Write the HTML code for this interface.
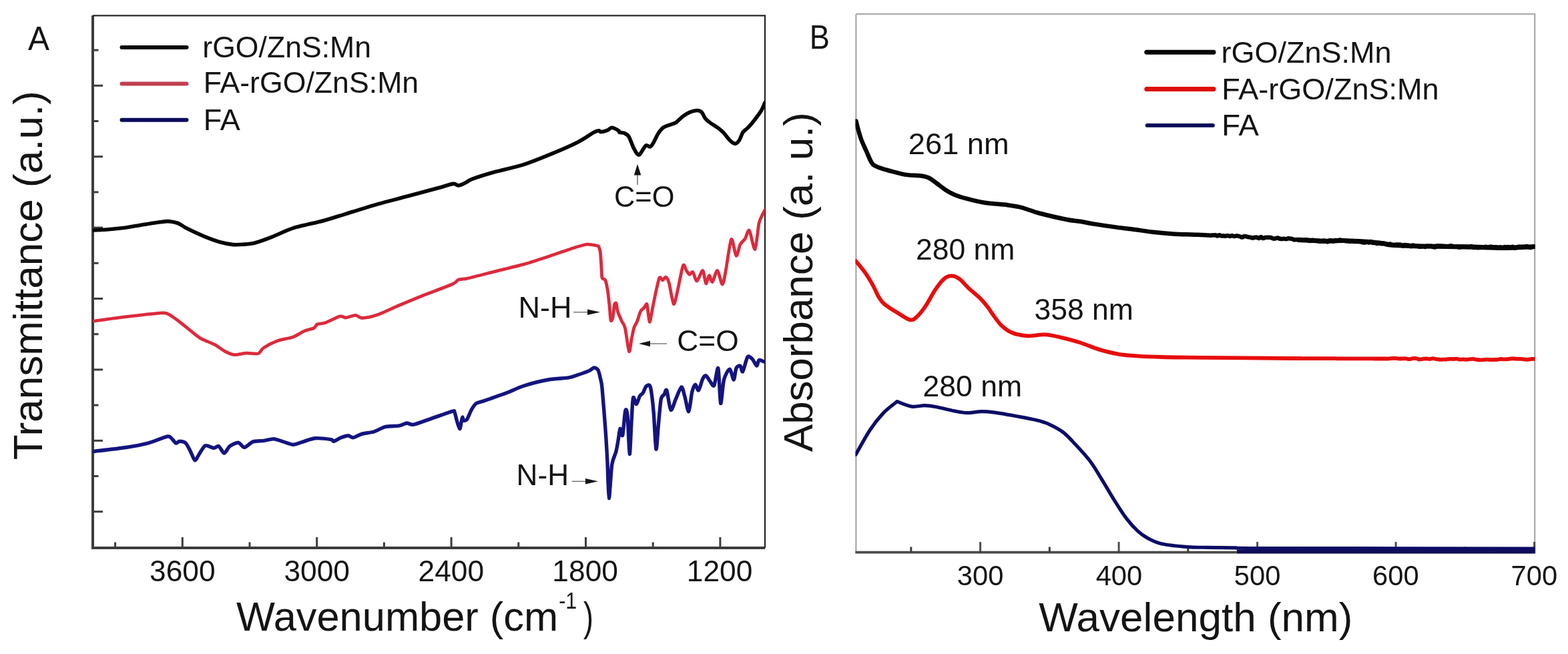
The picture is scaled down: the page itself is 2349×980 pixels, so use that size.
<!DOCTYPE html>
<html><head><meta charset="utf-8"><title>FTIR and UV-vis spectra</title>
<style>html,body{margin:0;padding:0;background:#fff;}body{width:2349px;height:980px;overflow:hidden;}svg{display:block;}text{font-family:'Liberation Sans', Arial, Helvetica, sans-serif;fill:#141414;}</style>
</head><body>
<svg width="2349" height="980" viewBox="0 0 2349 980">
<rect x="0" y="0" width="2349" height="980" fill="#fff"/>
<defs><clipPath id="ca"><rect x="139" y="23" width="1007" height="798"/></clipPath><clipPath id="cb"><rect x="1281.5" y="21" width="1018" height="808"/></clipPath></defs>
<line x1="139" y1="75.1" x2="147.5" y2="75.1" stroke="#3c3c3c" stroke-width="3"/>
<line x1="139" y1="128.3" x2="154" y2="128.3" stroke="#3c3c3c" stroke-width="3"/>
<line x1="139" y1="181.5" x2="147.5" y2="181.5" stroke="#3c3c3c" stroke-width="3"/>
<line x1="139" y1="234.7" x2="154" y2="234.7" stroke="#3c3c3c" stroke-width="3"/>
<line x1="139" y1="287.9" x2="147.5" y2="287.9" stroke="#3c3c3c" stroke-width="3"/>
<line x1="139" y1="341.1" x2="154" y2="341.1" stroke="#3c3c3c" stroke-width="3"/>
<line x1="139" y1="394.3" x2="147.5" y2="394.3" stroke="#3c3c3c" stroke-width="3"/>
<line x1="139" y1="447.5" x2="154" y2="447.5" stroke="#3c3c3c" stroke-width="3"/>
<line x1="139" y1="500.7" x2="147.5" y2="500.7" stroke="#3c3c3c" stroke-width="3"/>
<line x1="139" y1="553.9" x2="154" y2="553.9" stroke="#3c3c3c" stroke-width="3"/>
<line x1="139" y1="607.1" x2="147.5" y2="607.1" stroke="#3c3c3c" stroke-width="3"/>
<line x1="139" y1="660.3" x2="154" y2="660.3" stroke="#3c3c3c" stroke-width="3"/>
<line x1="139" y1="713.5" x2="147.5" y2="713.5" stroke="#3c3c3c" stroke-width="3"/>
<line x1="139" y1="766.7" x2="154" y2="766.7" stroke="#3c3c3c" stroke-width="3"/>
<line x1="172.6" y1="821" x2="172.6" y2="812.5" stroke="#3c3c3c" stroke-width="3"/>
<line x1="273.3" y1="821" x2="273.3" y2="805" stroke="#3c3c3c" stroke-width="3"/>
<line x1="374" y1="821" x2="374" y2="812.5" stroke="#3c3c3c" stroke-width="3"/>
<line x1="474.7" y1="821" x2="474.7" y2="805" stroke="#3c3c3c" stroke-width="3"/>
<line x1="575.4" y1="821" x2="575.4" y2="812.5" stroke="#3c3c3c" stroke-width="3"/>
<line x1="676.1" y1="821" x2="676.1" y2="805" stroke="#3c3c3c" stroke-width="3"/>
<line x1="776.8" y1="821" x2="776.8" y2="812.5" stroke="#3c3c3c" stroke-width="3"/>
<line x1="877.5" y1="821" x2="877.5" y2="805" stroke="#3c3c3c" stroke-width="3"/>
<line x1="978.2" y1="821" x2="978.2" y2="812.5" stroke="#3c3c3c" stroke-width="3"/>
<line x1="1078.9" y1="821" x2="1078.9" y2="805" stroke="#3c3c3c" stroke-width="3"/>
<path d="M139,23.3 V821 H1146" fill="none" stroke="#3c3c3c" stroke-width="4"/>
<path d="M139,23.3 H1146 V821" fill="none" stroke="#262626" stroke-width="2.2"/>
<text x="224.01" y="871.10" font-size="44.30" textLength="98.55" lengthAdjust="spacingAndGlyphs">3600</text>
<text x="425.41" y="871.10" font-size="44.30" textLength="98.55" lengthAdjust="spacingAndGlyphs">3000</text>
<text x="626.54" y="871.10" font-size="44.30" textLength="98.55" lengthAdjust="spacingAndGlyphs">2400</text>
<text x="827.37" y="871.10" font-size="44.30" textLength="98.55" lengthAdjust="spacingAndGlyphs">1800</text>
<text x="1028.77" y="871.10" font-size="44.30" textLength="98.55" lengthAdjust="spacingAndGlyphs">1200</text>
<path clip-path="url(#ca)" d="M139,345 C141.8,344.9 153.5,344.5 160,344 C166.5,343.5 181.8,341.9 187.5,341.2 C193.2,340.5 198,339.4 203,338.6 C208,337.8 218.7,335.9 225,335 C231.3,334.1 244.4,331.7 250,331.6 C255.6,331.5 262.8,333.1 266.7,334.5 C270.6,335.9 274.4,339.5 279.5,342.1 C284.6,344.7 298.2,351 305,353.8 C311.8,356.6 324.6,361.3 330.6,363 C336.6,364.7 345.1,366.2 349.7,366.6 C354.3,367 360.7,366.5 365,366.2 C369.3,365.9 376.1,365.5 381.7,364 C387.3,362.5 399.6,358.2 407.2,355.2 C414.8,352.2 428.5,345.1 439,341.8 C449.5,338.5 474.4,333.5 486.3,330.2 C498.2,326.9 517.7,320.6 528.4,317.3 C539.1,314 555.6,308.7 566.7,305.6 C577.8,302.5 599.5,297 611.4,293.8 C623.3,290.6 647.1,284.3 656.1,281.8 C665.1,279.3 675,275.9 679.1,275.4 C683.2,274.9 684.4,278.2 686.8,278 C689.2,277.8 694.3,275.3 697,274 C699.7,272.7 701.6,270.5 707.2,268.4 C712.8,266.3 728.8,261.2 739,258.3 C749.2,255.4 771.8,250.6 783.7,246.8 C795.6,243 817.3,234.2 828.4,229.6 C839.5,225 858.5,216.6 866.7,212.4 C874.9,208.2 885.6,200.5 889.7,198.3 C893.8,196.1 896,195.9 897.4,195.8 C898.8,195.7 898.2,197.8 899.9,197.7 C901.6,197.6 907.9,196 910.1,195.1 C912.3,194.2 914.3,191.2 916.5,191.3 C918.7,191.4 925.2,194.9 926.7,195.8 C928.2,196.7 926.8,197.8 928,198.3 C929.2,198.8 933.8,198.7 935.7,199.6 C937.6,200.5 940.4,202 942.1,204.7 C943.8,207.4 946.7,216.5 948.4,220 C950.1,223.5 953.4,229.4 954.8,230.9 C956.2,232.4 957,232.6 958.7,230.9 C960.4,229.2 965.6,219.6 967.6,218.1 C969.6,216.6 972.5,220.6 974,220 C975.5,219.4 977.6,216.1 979.1,213.6 C980.6,211.1 983.5,204 985.5,200.9 C987.5,197.8 991.2,192.8 994.4,190.7 C997.6,188.6 1007.2,185.9 1009.8,184.9 C1012.4,183.9 1011.8,184.4 1013.6,183 C1015.4,181.6 1020.5,176.2 1023.1,174.3 C1025.7,172.4 1030,169.6 1032.9,168.4 C1035.8,167.2 1042.2,165.5 1044.7,165.5 C1047.2,165.5 1049.9,166.8 1051.5,168.4 C1053.1,170 1054.7,175.1 1056.4,177.2 C1058.1,179.3 1061.6,182.1 1064.2,184.1 C1066.8,186.1 1073.4,190 1076,191.9 C1078.6,193.8 1081.5,196.2 1083.8,198.7 C1086.1,201.2 1091.3,208.3 1093.6,210.5 C1095.9,212.7 1099.6,215.4 1101.4,215.4 C1103.2,215.4 1105.7,212.8 1107.3,210.5 C1108.9,208.2 1111.4,200.4 1113.2,197.8 C1115,195.2 1118.7,193.4 1121,190.9 C1123.3,188.4 1128.2,182.6 1130.8,179.2 C1133.4,175.8 1138.6,168.9 1140.6,165.5 C1142.6,162.1 1145.3,155.3 1146,153.7" fill="none" stroke="#060606" stroke-width="5.6" stroke-linejoin="round" stroke-linecap="round"/>
<path clip-path="url(#ca)" d="M139.2,481.3 C145.3,480.5 171.5,476.7 184.9,475.1 C198.3,473.5 230.9,469.7 239.8,469.1 C248.7,468.5 247.8,468.9 251.4,470.4 C255,471.9 262.1,477.1 266.7,480.5 C271.3,483.9 281.3,492.3 285.9,495.9 C290.5,499.5 296.4,504.7 301.2,507.4 C306,510.1 316.8,513.9 321.6,516.4 C326.4,518.9 333.1,524.5 337,526.5 C340.9,528.5 346.7,531.2 351,531.6 C355.3,532 364.1,529.4 368.9,529.2 C373.7,529 383.4,530.8 386.8,529.8 C390.2,528.8 390.8,524.1 394.4,521.6 C398,519.1 407.7,513.6 413.6,511.4 C419.5,509.2 433.4,506.9 439,504.9 C444.6,502.9 451.6,497.9 455.8,496.1 C460,494.3 467.9,492.8 470.5,491.5 C473.1,490.2 472.9,487 475.1,486 C477.3,485 482.5,485.4 487,483.8 C491.5,482.2 504.8,475.1 508.9,474.1 C513,473.1 514.9,476.2 518.1,476 C521.3,475.8 529.5,472.2 532.7,472.3 C535.9,472.4 537.7,476.5 541.9,476.5 C546.1,476.5 557.2,474.6 564.5,472.1 C571.8,469.6 587.7,461.8 596.7,458 C605.7,454.2 621.2,447.7 632,443.4 C642.8,439.1 670.6,429.1 677.9,425.8 C685.2,422.5 684.2,420 687.1,418.9 C690,417.8 692.5,418.9 699.4,417.4 C706.3,415.9 727.8,410.3 739.2,407.4 C750.6,404.5 774,399.1 785.2,395.9 C796.4,392.7 813.3,387.1 823.5,383.7 C833.7,380.3 854.2,373 861.8,370.7 C869.4,368.4 875.6,366.4 880.2,366.1 C884.8,365.8 894.3,368.3 896.5,368.6 C896.9,369.7 898.6,373.1 899.2,377 C899.8,380.9 900.4,392.8 900.8,398 C901.2,403.2 901.2,413.4 902,416.3 C902.8,419.2 905.8,417.2 906.9,420 C908,422.8 909.8,431.9 910.6,437.1 C911.4,442.3 912.5,453.5 913.1,459.2 C913.7,464.9 914.3,477.7 915,480 C915.7,482.3 917.3,479.4 918,476.3 C918.7,473.2 919.7,459.6 920.4,456.7 C921.1,453.8 922.6,453.5 923.3,454.8 C924,456.1 924.2,463 925.3,466.5 C926.4,470 929.9,477.9 931.4,481.2 C932.9,484.5 934.8,485 936.3,491 C937.8,497 941.1,524.2 942.4,526.5 C943.7,528.8 945.1,512.9 946.1,508.2 C947.1,503.5 948.7,494.6 949.8,491 C950.9,487.4 953.4,484.5 954.7,481.2 C956,477.9 958.3,469.1 959.6,466.5 C960.9,463.9 963.5,462.7 964.5,461.6 C965.5,460.5 966.2,458.7 966.9,458 C967.6,457.3 968.6,453.4 969.4,456.7 C970.2,460 972.1,481.1 973.1,482.4 C974.1,483.7 975.6,471.9 976.7,466.5 C977.8,461.1 980.1,448.7 981.6,442 C983.1,435.3 986.3,419.2 987.8,416.3 C989.3,413.4 991.4,420.2 992.7,420 C994,419.8 996.2,414.4 997.5,415.1 C998.8,415.8 1001,419.5 1002.5,424.9 C1004,430.3 1007.5,453.9 1009.1,455.5 C1010.7,457.1 1012.8,444.8 1014.7,437.1 C1016.6,429.4 1021.5,402.2 1023.3,398 C1025.1,393.8 1026.9,403.5 1028.2,405.3 C1029.5,407.1 1031.8,411.1 1033.1,411.4 C1034.4,411.7 1036.5,406.5 1038,407.8 C1039.5,409.1 1042.1,421.5 1044.1,421.2 C1046.1,420.9 1050.9,404.8 1052.7,405.3 C1054.5,405.8 1056.3,423.9 1057.6,424.9 C1058.9,425.9 1061.2,413 1062.5,412.7 C1063.8,412.4 1065.7,423.4 1067.3,422.4 C1068.9,421.4 1072.7,404.8 1074.7,405.3 C1076.7,405.8 1080.4,425.8 1082,426.1 C1083.6,426.4 1085.1,416.8 1086.9,407.8 C1088.7,398.8 1093.4,362.1 1095.5,358.8 C1097.6,355.5 1101.1,382.3 1102.9,383.3 C1104.7,384.3 1107.2,369.5 1109,366.1 C1110.8,362.7 1114.5,360.4 1116.3,357.6 C1118.1,354.8 1120.5,343.2 1122.5,345.3 C1124.5,347.4 1129.1,375 1131,373.5 C1132.9,372 1135.5,341.5 1137.1,334.3 C1138.7,327.1 1142.1,322.2 1143.3,319.6 C1144.5,317 1145.6,315.4 1146,314.7" fill="none" stroke="#dc2a3c" stroke-width="4.8" stroke-linejoin="round" stroke-linecap="round"/>
<path clip-path="url(#ca)" d="M139.2,676.5 C145.8,675.7 177.6,672.2 188.6,670.5 C199.6,668.8 213.2,666.3 221.5,664.1 C229.8,661.9 245.9,654.8 250.8,654 C255.7,653.2 256.4,656.9 258.1,658.2 C259.8,659.5 262.1,663.7 263.6,664.1 C265.1,664.5 267.1,661.3 269.1,661.3 C271.1,661.3 276.1,662 278.3,664.1 C280.5,666.2 283.8,673.5 285.6,676.9 C287.4,680.3 290.3,689.2 292,689.7 C293.7,690.2 296.3,683.4 298.4,680.5 C300.5,677.6 304.7,668.9 307.6,667.7 C310.5,666.5 317.7,671.3 320.4,671.4 C323.1,671.5 325.6,667.6 327.7,668.6 C329.8,669.6 333.7,679.1 335.9,679.1 C338.1,679.1 341.4,670.7 344.2,668.6 C347,666.5 354.1,662.9 357,663.2 C359.9,663.5 363.2,670.7 366.1,670.5 C369,670.3 375.1,663.2 379,661.9 C382.9,660.6 391.3,661 395.4,660.4 C399.5,659.8 406.4,657.6 410.1,657.7 C413.8,657.8 419,660.2 422.9,661.3 C426.8,662.4 435,666.3 439.4,666.3 C443.8,666.3 451.4,662.6 455.8,661.3 C460.2,660 466.9,657.1 472.3,656.7 C477.7,656.3 492.4,658 496.1,658.6 C499.8,659.2 497.8,661.7 499.8,661.3 C501.8,660.9 507.9,656.9 510.8,655.8 C513.7,654.7 519.3,652.7 521.7,652.7 C524.1,652.7 526.4,656.1 529.1,655.8 C531.8,655.5 537.8,651.5 541.9,650.3 C546,649.1 555.3,648.4 560,647 C564.7,645.6 571.9,640.8 577,639.6 C582.1,638.4 594,638.6 598.3,637.9 C602.6,637.2 606.6,634.2 609.4,634 C612.2,633.8 614.8,637.1 619.6,636.2 C624.4,635.3 637.4,630.2 645.1,627.6 C652.8,625 672.7,617.8 677.5,616.4 C682.3,615 680,615.6 680.9,617.4 C681.8,619.2 683.3,626.6 684.3,630 C685.3,633.4 687.7,642.3 688.6,642.6 C689.5,642.9 690.5,634.9 691.1,632.6 C691.7,630.3 692.3,625.5 692.8,625.2 C693.3,624.9 693.6,629.6 694.5,630 C695.4,630.4 698,630.5 699.6,628.3 C701.2,626.1 704.6,617 706.4,613.8 C708.2,610.6 710.7,606.4 713.3,604.6 C715.9,602.8 719.8,602.6 726,600.4 C732.2,598.2 752.2,591.3 760,588.3 C767.8,585.3 776.3,580.8 784.5,578.2 C792.7,575.6 812.2,570.6 821.2,569 C830.2,567.4 846.2,566.8 851.9,565.9 C857.6,565 860,563.7 864.1,562.3 C868.2,560.9 879.1,557.1 882.5,555.6 C885.9,554.1 888,551.1 889.8,551 C891.6,550.9 894.6,552.5 895.9,554.5 C897.2,556.5 898.4,562.4 899.2,566 C900,569.6 901,571 902,581.2 C903,591.4 905.8,627.7 906.9,642.4 C908,657.1 909.2,677.5 909.9,691.4 C910.6,705.3 911.4,745.8 912.3,746.5 C913.2,747.2 915.3,705.6 916.7,696.3 C918.1,687 921.6,681.9 922.9,676.7 C924.2,671.5 925.7,661.7 926.5,657.1 C927.3,652.5 928.2,643.1 929,642.4 C929.8,641.7 931.7,655.8 932.7,652.2 C933.7,648.6 935.8,619.4 936.8,615.5 C937.8,611.6 939.1,614.2 940,622.9 C940.9,631.6 942.4,679.4 943.2,680.4 C944,681.4 945.4,641.5 946.1,630.2 C946.8,618.9 947.6,599.2 948.6,595.9 C949.6,592.6 952.2,606 953.5,605.7 C954.8,605.4 957.1,595.8 958.4,593.5 C959.7,591.2 962,590.6 963.3,588.6 C964.6,586.6 966.7,579.9 968.2,578.8 C969.7,577.7 972.8,574.8 974.3,580 C975.8,585.2 978.1,605.6 979.2,618 C980.3,630.4 981.9,670.8 982.9,673.1 C983.9,675.4 985.5,645.1 986.5,635.1 C987.5,625.1 989.1,604.3 990.2,598.4 C991.3,592.5 994,592.8 995.1,591 C996.2,589.2 997.5,581.8 998.8,584.9 C1000.1,588 1003.1,612.5 1004.9,614.3 C1006.7,616.1 1010.1,603 1012.2,598.4 C1014.3,593.8 1019,580.7 1020.8,580 C1022.6,579.3 1024.2,588.6 1025.7,593.5 C1027.2,598.4 1030.3,617.5 1031.8,616.7 C1033.3,615.9 1035.4,592.7 1036.7,587.3 C1038,581.9 1040.3,576.6 1041.6,576.3 C1042.9,576 1045,586 1046.5,584.9 C1048,583.8 1051.2,570.7 1052.7,567.8 C1054.2,564.9 1056.1,562.4 1057.6,562.9 C1059.1,563.4 1062.1,569.4 1063.7,571.4 C1065.3,573.4 1068.2,580.2 1069.8,577.6 C1071.4,575 1074.6,548.2 1075.9,551.8 C1077.2,555.4 1078.5,602.2 1079.6,604.5 C1080.7,606.8 1082.7,575.9 1084.5,569 C1086.3,562.1 1091.1,553.1 1093.1,553.1 C1095.1,553.1 1097.9,569.2 1099.2,569 C1100.5,568.8 1101.6,554.6 1102.9,551.8 C1104.2,549 1107.7,547.5 1109,548.2 C1110.3,548.9 1111.2,558.5 1112.7,556.7 C1114.2,554.9 1118.1,537.1 1120,534.7 C1121.9,532.3 1125.5,536.6 1127.3,538.4 C1129.1,540.2 1132.2,548 1133.5,548.2 C1134.8,548.4 1135.6,540.4 1137.1,539.6 C1138.6,538.8 1143.5,541.7 1144.5,542" fill="none" stroke="#141480" stroke-width="5.4" stroke-linejoin="round" stroke-linecap="round"/>
<line x1="182.5" y1="71" x2="279.5" y2="71" stroke="#060606" stroke-width="6" stroke-linecap="round"/>
<line x1="182.5" y1="125.6" x2="279.5" y2="125.6" stroke="#c23e50" stroke-width="6" stroke-linecap="round"/>
<line x1="182.5" y1="179.8" x2="279.5" y2="179.8" stroke="#0c0c5c" stroke-width="6" stroke-linecap="round"/>
<text x="303.34" y="85.50" font-size="44.50" textLength="252.66" lengthAdjust="spacingAndGlyphs">rGO/ZnS:Mn</text>
<text x="304.67" y="139.40" font-size="44.50" textLength="322.51" lengthAdjust="spacingAndGlyphs">FA-rGO/ZnS:Mn</text>
<text x="304.76" y="194.60" font-size="44.50" textLength="55.12" lengthAdjust="spacingAndGlyphs">FA</text>
<text x="41.91" y="74.80" font-size="50.00" textLength="32.09" lengthAdjust="spacingAndGlyphs">A</text>
<line x1="955" y1="262" x2="955" y2="277" stroke="#555" stroke-width="1.3"/>
<path d="M955,245.7 L960.3,262.4 L949.9,262.4 Z" fill="#141414"/>
<text x="920.00" y="309.80" font-size="44.50" textLength="90.48" lengthAdjust="spacingAndGlyphs">C=O</text>
<text x="776.40" y="476.40" font-size="44.50" textLength="80.07" lengthAdjust="spacingAndGlyphs">N-H</text>
<line x1="859" y1="467.8" x2="882" y2="467.8" stroke="#666" stroke-width="1.3"/>
<path d="M899,467.8 L880,463.6 L880,472 Z" fill="#141414"/>
<line x1="972" y1="515" x2="999" y2="515" stroke="#666" stroke-width="1.3"/>
<path d="M957,515 L974,510.8 L974,519.2 Z" fill="#141414"/>
<text x="1014.35" y="526.40" font-size="44.50" textLength="92.37" lengthAdjust="spacingAndGlyphs">C=O</text>
<text x="773.58" y="727.00" font-size="44.50" textLength="78.42" lengthAdjust="spacingAndGlyphs">N-H</text>
<line x1="856.7" y1="721.3" x2="879" y2="721.3" stroke="#666" stroke-width="1.3"/>
<path d="M896,721.3 L877,717.1 L877,725.5 Z" fill="#141414"/>
<text x="354.03" y="945.00" font-size="62.00" textLength="482.00" lengthAdjust="spacingAndGlyphs">Wavenumber (cm</text>
<text x="837.14" y="911.50" font-size="35.00" textLength="27.15" lengthAdjust="spacingAndGlyphs">-1</text>
<text x="874.04" y="945.00" font-size="62.00" textLength="14.95" lengthAdjust="spacingAndGlyphs">)</text>
<text transform="translate(62.60,689.19) rotate(-90)" x="0" y="0" font-size="62.00" textLength="553.22" lengthAdjust="spacingAndGlyphs">Transmittance (a.u.)</text>
<path d="M1282.4,828 V21 M1282.4,21 H2299.2 V828" fill="none" stroke="#a8a8a8" stroke-width="2.2"/>
<line x1="1281.4" y1="827.6" x2="2300.2" y2="827.6" stroke="#4a4a4a" stroke-width="3.6"/>
<text x="1433.82" y="876.70" font-size="43.00" textLength="69.59" lengthAdjust="spacingAndGlyphs">300</text>
<text x="1641.64" y="876.70" font-size="43.00" textLength="69.59" lengthAdjust="spacingAndGlyphs">400</text>
<text x="1848.78" y="876.70" font-size="43.00" textLength="69.59" lengthAdjust="spacingAndGlyphs">500</text>
<text x="2056.06" y="876.70" font-size="43.00" textLength="69.59" lengthAdjust="spacingAndGlyphs">600</text>
<text x="2263.55" y="876.70" font-size="43.00" textLength="69.59" lengthAdjust="spacingAndGlyphs">700</text>
<path clip-path="url(#cb)" d="M1282.5,181.5 C1282.9,183 1283.4,186 1284.7,190.6 C1286,195.2 1288,202.9 1290.2,209 C1292.5,215.1 1295.7,221.6 1298.2,227.3 C1300.8,233 1303.1,239.5 1305.5,243.2 C1307.9,246.9 1308.5,247.3 1312.8,249.4 C1317.1,251.5 1324,253.5 1331.2,255.5 C1338.4,257.5 1347.7,260.3 1355.7,261.6 C1363.7,262.9 1373.3,262.6 1379.2,263.4 C1385.1,264.2 1386.9,264.4 1390.9,266.3 C1394.9,268.2 1398.7,271.4 1403,274.5 C1407.3,277.6 1412.1,281.7 1416.8,284.7 C1421.5,287.7 1425.8,290.1 1431,292.3 C1436.2,294.5 1440.7,295.8 1448.1,297.7 C1455.5,299.6 1465.2,302.2 1475.4,303.8 C1485.6,305.4 1500.3,306 1509.4,307.2 C1518.5,308.4 1522,308.8 1529.9,310.8 C1537.9,312.9 1545.8,316.5 1557.1,319.5 C1568.4,322.5 1587.8,326.9 1598,329 C1608.2,331.1 1611.6,330.7 1618.4,331.8 C1625.2,332.9 1629.8,334.1 1638.9,335.6 C1648,337.1 1662.7,339.2 1672.9,340.6 C1683.1,342 1691,342.8 1700,344 C1709,345.2 1717.7,346.6 1727.2,347.7 C1736.7,348.8 1745.8,349.7 1757.2,350.4 C1768.6,351.1 1788.5,351.5 1795.4,351.8 C1802.3,352.1 1797.5,351.9 1798.5,352 C1799.6,352 1800.6,352.1 1801.7,352.1 C1802.7,352.2 1803.8,352.2 1804.8,352.3 C1805.9,352.3 1806.9,352.4 1808,352.4 C1809,352.5 1810,352.5 1811.1,352.6 C1812.1,352.6 1813.2,352.7 1814.2,352.7 C1815.3,352.7 1816.3,352.5 1817.4,352.5 C1818.4,352.4 1819.5,352 1820.5,352.2 C1821.6,352.4 1822.6,353.5 1823.6,353.5 C1824.7,353.6 1825.7,352.3 1826.8,352.3 C1827.8,352.3 1828.9,353.4 1829.9,353.6 C1831,353.7 1832,353.3 1833.1,353.3 C1834.1,353.4 1835.2,353.9 1836.2,353.8 C1837.2,353.7 1838.3,352.8 1839.3,352.9 C1840.3,352.9 1841.4,354 1842.4,354.1 C1843.4,354.1 1844.5,353.1 1845.5,353.1 C1846.5,353.1 1847.6,354.1 1848.6,354.1 C1849.6,354.2 1850.7,353.5 1851.7,353.4 C1852.7,353.3 1853.8,353.4 1854.8,353.6 C1855.8,353.8 1856.9,354.2 1857.9,354.5 C1858.9,354.8 1860,355.7 1861,355.6 C1862,355.5 1863.1,354.2 1864.1,354 C1865.1,353.8 1866.2,354.2 1867.2,354.4 C1868.2,354.6 1869.3,355 1870.3,355.2 C1871.3,355.4 1872.4,355.4 1873.4,355.7 C1874.5,355.9 1875.5,356.6 1876.6,356.6 C1877.6,356.6 1878.7,356 1879.7,355.8 C1880.8,355.7 1881.8,355.4 1882.9,355.6 C1883.9,355.8 1885,357.2 1886,357.1 C1887.1,357 1888.1,355 1889.2,355 C1890.2,355 1891.3,357 1892.3,357.1 C1893.4,357.3 1894.4,356.2 1895.5,355.9 C1896.5,355.7 1897.6,355.7 1898.6,355.7 C1899.7,355.7 1900.7,355.7 1901.8,355.8 C1902.8,355.9 1903.9,356.1 1904.9,356.4 C1906,356.8 1907,357.7 1908.1,357.8 C1909.1,357.9 1910.2,357.4 1911.2,357.2 C1912.2,357 1913.3,356.5 1914.3,356.6 C1915.3,356.7 1916.4,357.5 1917.4,357.8 C1918.4,358 1919.4,358.1 1920.5,358.1 C1921.5,358.1 1922.5,357.6 1923.6,357.7 C1924.6,357.7 1925.6,358.3 1926.7,358.3 C1927.7,358.2 1928.7,357.4 1929.7,357.3 C1930.8,357.2 1931.8,357.4 1932.8,357.5 C1933.9,357.6 1934.9,357.7 1935.9,358 C1937,358.3 1938,359.2 1939,359.4 C1940,359.5 1941.1,358.9 1942.1,358.9 C1943.1,358.9 1944.2,359.3 1945.2,359.3 C1946.2,359.3 1947.3,358.9 1948.3,359 C1949.4,359.1 1950.4,359.7 1951.5,359.8 C1952.5,359.9 1953.6,359.7 1954.6,359.6 C1955.7,359.6 1956.7,359.2 1957.8,359.4 C1958.8,359.6 1959.9,360.6 1960.9,360.8 C1962,361 1963,360.9 1964.1,360.7 C1965.1,360.5 1966.2,359.8 1967.2,359.8 C1968.3,359.8 1969.3,360.5 1970.4,360.7 C1971.4,360.9 1972.5,360.6 1973.5,360.7 C1974.6,360.9 1975.6,361.6 1976.7,361.7 C1977.7,361.9 1978.8,361.7 1979.8,361.5 C1980.9,361.4 1981.9,360.7 1983,360.6 C1984,360.6 1985.1,361 1986.1,361.3 C1987.1,361.6 1988.1,362.5 1989.1,362.4 C1990.1,362.2 1991.1,360.5 1992.1,360.2 C1993.1,360 1994.1,360.6 1995.1,360.8 C1996.1,361.1 1997.1,361.7 1998.1,361.6 C1999.1,361.4 2000.2,360.2 2001.2,360 C2002.2,359.9 2003.2,360.8 2004.2,360.7 C2005.2,360.7 2006.2,359.5 2007.2,359.6 C2008.2,359.6 2009.2,360.8 2010.2,361 C2011.2,361.1 2012.2,360.4 2013.2,360.5 C2014.2,360.6 2015.3,361.2 2016.3,361.3 C2017.3,361.4 2018.4,361 2019.4,361.1 C2020.4,361.2 2021.5,362.1 2022.5,362 C2023.6,362 2024.6,360.9 2025.6,360.9 C2026.7,360.9 2027.7,361.8 2028.7,362 C2029.8,362.2 2030.8,361.9 2031.8,362 C2032.9,362 2033.9,362.1 2034.9,362.1 C2036,362.1 2037,361.9 2038,362 C2039.1,362.2 2040.1,362.9 2041.2,363.2 C2042.2,363.4 2043.2,363.7 2044.3,363.6 C2045.3,363.5 2046.3,362.7 2047.4,362.7 C2048.4,362.7 2049.4,363.5 2050.5,363.4 C2051.5,363.3 2052.5,362 2053.6,362.1 C2054.6,362.2 2055.6,363.6 2056.7,363.9 C2057.7,364.2 2058.8,363.8 2059.8,363.9 C2060.8,364.1 2061.9,365 2062.9,365 C2063.9,365 2064.9,363.9 2066,364 C2067.1,364.1 2068.2,365.2 2069.3,365.3 C2070.4,365.4 2071.5,364.5 2072.6,364.5 C2073.7,364.6 2074.8,365 2075.9,365.3 C2077,365.7 2078.1,366.5 2079.2,366.5 C2080.3,366.6 2081.4,365.4 2082.5,365.5 C2083.6,365.6 2084.7,366.9 2085.8,367.2 C2086.9,367.5 2087.9,367.3 2088.9,367.2 C2089.9,367.1 2090.9,366.7 2092,366.6 C2093,366.5 2094,366.6 2095,366.6 C2096.1,366.6 2097.1,366.3 2098.1,366.6 C2099.1,366.9 2100.2,368.4 2101.2,368.4 C2102.2,368.5 2103.3,367.2 2104.3,367 C2105.3,366.9 2106.3,367.3 2107.4,367.4 C2108.4,367.6 2109.4,367.6 2110.4,367.9 C2111.5,368.2 2112.5,369.3 2113.5,369.2 C2114.5,369.1 2115.6,367.5 2116.6,367.4 C2117.6,367.3 2118.7,368.2 2119.7,368.4 C2120.7,368.6 2121.7,368.5 2122.8,368.8 C2123.8,369 2124.8,369.5 2125.8,369.7 C2126.9,369.8 2127.9,369.8 2128.9,369.6 C2129.9,369.5 2131,369 2132,369 C2133,369 2134,370 2135,369.9 C2136,369.8 2137,368.7 2138,368.5 C2139,368.4 2140,368.9 2141,368.9 C2142,369 2143,368.6 2144,368.8 C2145,369 2146,369.9 2147,370.1 C2148,370.4 2149,370.6 2150,370.3 C2151,370 2152,368.7 2153,368.4 C2154,368.1 2155,368.5 2156,368.5 C2157,368.6 2158,368.6 2159,368.7 C2160,368.7 2161,368.6 2162,368.7 C2163,368.8 2164,369.2 2165,369.4 C2166,369.5 2167,369.7 2168,369.7 C2169,369.6 2170,369.1 2171,368.9 C2172,368.7 2173,368.2 2174,368.3 C2175,368.4 2176,369.2 2177,369.4 C2178,369.5 2179,369.2 2180,369.3 C2181,369.3 2182,369.5 2183,369.8 C2184,370 2185,370.7 2186,370.7 C2187,370.8 2188,370.3 2189,370.1 C2190,370 2191,369.8 2192,369.8 C2193,369.7 2194,370 2195,370 C2196,370.1 2197,369.8 2198,369.8 C2199,369.8 2200.1,370.5 2201.1,370.3 C2202.1,370.2 2203.2,368.8 2204.2,368.9 C2205.2,369 2206.3,370.7 2207.3,371 C2208.4,371.4 2209.4,370.8 2210.4,370.8 C2211.5,370.9 2212.5,371.1 2213.5,371.2 C2214.6,371.2 2215.6,371.2 2216.6,371.1 C2217.7,370.9 2218.7,370.3 2219.7,370.2 C2220.8,370.1 2221.8,370.4 2222.8,370.3 C2223.9,370.2 2224.9,369.6 2226,369.7 C2227,369.8 2228,371 2229.1,371.1 C2230.1,371.1 2231.1,370 2232.2,369.8 C2233.2,369.6 2234.2,369.8 2235.3,369.9 C2236.3,370 2237.3,370.3 2238.4,370.3 C2239.4,370.4 2240.4,370.2 2241.5,370.3 C2242.5,370.4 2243.6,370.8 2244.6,370.8 C2245.6,370.8 2246.7,370.1 2247.7,370.2 C2248.7,370.3 2249.8,371.4 2250.8,371.4 C2251.8,371.4 2252.8,370.3 2253.8,370.1 C2254.9,369.9 2255.9,370.3 2256.9,370.3 C2257.9,370.3 2258.9,370 2259.9,370.1 C2260.9,370.1 2262,370.7 2263,370.6 C2264,370.5 2265,369.5 2266,369.7 C2267,369.8 2268,371.4 2269.1,371.6 C2270.1,371.8 2271.1,371.2 2272.1,370.8 C2273.1,370.5 2274.1,369.8 2275.2,369.6 C2276.2,369.4 2277.2,369.7 2278.2,369.7 C2279.2,369.8 2280.2,369.8 2281.2,369.8 C2282.3,369.9 2283.3,369.9 2284.3,369.8 C2285.3,369.6 2286.3,368.9 2287.3,369.1 C2288.3,369.2 2289.4,370.4 2290.4,370.7 C2291.4,371 2292.4,371.1 2293.4,370.9 C2294.4,370.7 2295.4,369.8 2296.5,369.5 C2297.5,369.3 2299,369.5 2299.5,369.5" fill="none" stroke="#060606" stroke-width="6.5" stroke-linejoin="round" stroke-linecap="round"/>
<path clip-path="url(#cb)" d="M1945.2,359.3 C1952,359.6 1974.8,361.1 1986.1,361.3 C1997.4,361.5 1999.9,360.1 2013.2,360.5 C2026.5,360.9 2053.9,362.9 2066,364 C2078.1,365.1 2074.8,366.4 2085.8,367.2 C2096.8,368 2113.3,368.6 2132,369 C2150.7,369.4 2178.2,369.4 2198,369.8 C2217.8,370.2 2233.9,371.4 2250.8,371.4 C2267.7,371.3 2291.4,369.8 2299.5,369.5" fill="none" stroke="#060606" stroke-width="7.2" stroke-linejoin="round" stroke-linecap="round"/>
<path clip-path="url(#cb)" d="M1282,391 C1284.3,393.9 1291.8,402.5 1296.1,408.6 C1300.4,414.7 1304.5,421.7 1307.9,427.8 C1311.3,433.9 1313.6,440.4 1316.4,445 C1319.2,449.6 1320.3,451.8 1325,455.7 C1329.7,459.6 1337.9,464.7 1344.3,468.6 C1350.7,472.5 1358.6,478.4 1363.6,479.3 C1368.6,480.2 1370.4,477.5 1374.3,473.9 C1378.2,470.3 1382.6,464.4 1387.1,457.8 C1391.5,451.2 1396.5,440.9 1401,434.3 C1405.5,427.7 1409.8,421.7 1413.9,418.2 C1418,414.7 1421.8,413.4 1425.7,413.4 C1429.6,413.4 1433.2,415.1 1437.5,418.2 C1441.8,421.3 1446.2,427.3 1451.4,432.1 C1456.6,436.9 1463.7,442.4 1468.5,447.1 C1473.3,451.8 1477,456.7 1480,460.5 C1483,464.3 1483.1,465.6 1486.5,470.1 C1489.9,474.6 1495.3,483 1500.2,487.7 C1505.1,492.4 1509.4,495.9 1515.9,498.5 C1522.4,501.1 1531.2,502.9 1539.4,503.4 C1547.6,503.9 1556.7,501.1 1564.8,501.4 C1572.9,501.7 1579.5,503.3 1588.3,505.3 C1597.1,507.3 1607.9,510.1 1617.7,513.2 C1627.5,516.3 1637.3,521 1647.1,523.9 C1656.9,526.8 1666.6,529.2 1676.4,530.8 C1686.2,532.4 1695.2,532.9 1705.8,533.6 C1716.4,534.3 1724.3,534.6 1740,535 C1755.7,535.4 1767.1,535.5 1800,535.8 C1832.9,536.1 1913.7,536.8 1937.5,537 C1961.3,537.2 1940.9,537 1942.6,537 C1944.3,537 1946,537 1947.7,537 C1949.4,537 1951.1,537.1 1952.8,537.1 C1954.5,537.1 1956.2,537.1 1957.9,537.1 C1959.6,537.1 1961.3,537.1 1963,537.1 C1964.8,537.1 1966.5,537.1 1968.2,537.1 C1969.9,537.1 1971.6,537.1 1973.3,537.1 C1975,537.1 1976.7,537.1 1978.4,537.2 C1980.1,537.2 1981.8,537.2 1983.5,537.2 C1985.2,537.2 1986.9,537.2 1988.6,537.2 C1990.3,537.2 1992,537.2 1993.7,537.2 C1995.4,537.2 1997.1,537.2 1998.8,537.2 C2000.5,537.2 2002.2,537.2 2003.9,537.3 C2005.6,537.3 2007.3,537.3 2009,537.3 C2010.7,537.3 2012.4,537.3 2014.1,537.3 C2015.8,537.3 2017.6,537.3 2019.3,537.3 C2021,537.3 2022.7,537.3 2024.4,537.3 C2026.1,537.3 2027.8,537.3 2029.5,537.3 C2031.2,537.4 2032.9,537.4 2034.6,537.4 C2036.3,537.4 2038,537.4 2039.7,537.4 C2041.4,537.4 2043.1,537.4 2044.8,537.4 C2046.5,537.4 2048.2,537.4 2049.9,537.4 C2051.6,537.4 2053.3,537.4 2055,537.4 C2056.7,537.5 2058.4,537.5 2060.1,537.5 C2061.8,537.5 2063.5,537.5 2065.2,537.5 C2066.9,537.5 2068.6,537.5 2070.4,537.5 C2072.1,537.5 2073.8,537.5 2075.5,537.5 C2077.2,537.5 2078.9,537.6 2080.6,537.5 C2082.3,537.4 2084,537 2085.7,536.9 C2087.4,536.8 2089.1,536.8 2090.8,536.9 C2092.5,537.1 2094.2,537.5 2095.9,537.6 C2097.6,537.7 2099.3,537.4 2101,537.4 C2102.7,537.3 2104.4,537.2 2106,537.3 C2107.7,537.4 2109.4,538.3 2111.1,538.2 C2112.8,538.2 2114.5,537.4 2116.2,537.2 C2117.9,537 2119.6,536.8 2121.3,537 C2123,537.3 2124.6,538.4 2126.3,538.6 C2128,538.7 2129.7,538.1 2131.4,537.9 C2133.1,537.7 2134.8,537.3 2136.5,537.3 C2138.2,537.4 2139.9,538 2141.6,538 C2143.2,538 2144.9,537.2 2146.6,537.2 C2148.3,537.2 2150,537.8 2151.7,538.1 C2153.4,538.3 2155.1,538.7 2156.8,538.8 C2158.5,538.9 2160.2,538.7 2161.9,538.7 C2163.5,538.6 2165.2,538.6 2166.9,538.5 C2168.6,538.3 2170.3,537.9 2172,537.8 C2173.7,537.7 2175.4,538 2177.1,538 C2178.8,538 2180.5,537.6 2182.1,537.7 C2183.8,537.8 2185.5,538.6 2187.2,538.7 C2188.9,538.8 2190.6,538.4 2192.3,538.4 C2194,538.4 2195.7,538.9 2197.4,538.8 C2199.1,538.8 2200.7,538.3 2202.4,538.1 C2204.1,538 2205.8,537.9 2207.5,538 C2209.2,538.1 2210.9,538.8 2212.6,539 C2214.3,539.2 2216,539.3 2217.7,539.3 C2219.3,539.3 2221,539.2 2222.7,539.1 C2224.4,539 2226.1,538.6 2227.8,538.6 C2229.5,538.6 2231.2,539 2232.9,539 C2234.6,539.1 2236.3,539.1 2238,539 C2239.7,539 2241.4,539 2243.1,538.9 C2244.8,538.7 2246.4,538.1 2248.1,538 C2249.8,537.9 2251.5,538.4 2253.2,538.4 C2254.9,538.4 2256.6,538.3 2258.3,538.1 C2260,538 2261.7,537.6 2263.4,537.5 C2265.1,537.4 2266.8,537.4 2268.5,537.5 C2270.2,537.6 2271.9,537.8 2273.6,537.9 C2275.3,537.9 2277,537.7 2278.7,537.8 C2280.4,537.9 2282,538.3 2283.7,538.4 C2285.4,538.6 2287.1,538.9 2288.8,538.8 C2290.5,538.7 2292.2,538.1 2293.9,538 C2295.6,537.8 2298.2,538 2299,538" fill="none" stroke="#e80c0c" stroke-width="5.8" stroke-linejoin="round" stroke-linecap="round"/>
<line x1="1364.8" y1="828" x2="1364.8" y2="819.5" stroke="#3c3c3c" stroke-width="3"/>
<line x1="1572.3" y1="828" x2="1572.3" y2="819.5" stroke="#3c3c3c" stroke-width="3"/>
<line x1="1779.8" y1="828" x2="1779.8" y2="819.5" stroke="#3c3c3c" stroke-width="3"/>
<line x1="1987.3" y1="828" x2="1987.3" y2="819.5" stroke="#3c3c3c" stroke-width="3"/>
<line x1="2194.8" y1="828" x2="2194.8" y2="819.5" stroke="#3c3c3c" stroke-width="3"/>
<line x1="1468.6" y1="828.5" x2="1468.6" y2="812" stroke="#3c3c3c" stroke-width="3" stroke-opacity="0.9"/>
<line x1="1676.1" y1="828.5" x2="1676.1" y2="812" stroke="#3c3c3c" stroke-width="3" stroke-opacity="0.9"/>
<line x1="1883.6" y1="828.5" x2="1883.6" y2="812" stroke="#3c3c3c" stroke-width="3" stroke-opacity="0.9"/>
<line x1="2091.1" y1="828.5" x2="2091.1" y2="812" stroke="#3c3c3c" stroke-width="3" stroke-opacity="0.9"/>
<line x1="2298.6" y1="828.5" x2="2298.6" y2="812" stroke="#3c3c3c" stroke-width="3" stroke-opacity="0.9"/>
<rect x="1853" y="823.5" width="446" height="5.8" fill="#100c58"/>
<path clip-path="url(#cb)" d="M1282,681.3 C1285.5,675.2 1296.3,655 1303.2,644.5 C1310.1,634 1316.8,625.8 1323.6,618.6 C1330.4,611.5 1340.6,604.4 1344,601.6 C1347.6,602.9 1359,608.1 1365.8,609.1 C1372.6,610.1 1378.8,607.6 1384.9,607.7 C1391,607.8 1395.1,608.4 1402.6,609.8 C1410.1,611.2 1422.2,614.4 1429.9,615.9 C1437.6,617.4 1442.1,618.5 1448.9,618.6 C1455.7,618.7 1464.1,616.7 1470.7,616.6 C1477.3,616.5 1479.3,616.6 1488.4,617.9 C1497.5,619.1 1514.5,622.2 1525.2,624.1 C1535.9,626 1544.5,627.5 1552.5,629.5 C1560.5,631.5 1566.2,633.2 1572.9,636.3 C1579.6,639.4 1586.4,642.8 1592.9,647.9 C1599.4,653 1605.3,659.8 1612.1,667.1 C1618.9,674.4 1627.2,683.2 1633.6,691.8 C1640,700.4 1644.6,708.8 1650.7,718.6 C1656.8,728.4 1663.9,741.1 1670,750.7 C1676.1,760.3 1681.4,768.9 1687.1,776.4 C1692.8,783.9 1698.9,790.7 1704.3,795.7 C1709.7,800.7 1713.2,803.2 1719.3,806.4 C1725.4,809.6 1730.6,812.8 1740.7,815 C1750.8,817.2 1768.7,818.8 1780,819.7 C1791.3,820.6 1797.4,820.1 1808.8,820.3 C1820.2,820.5 1833.2,820.6 1848.4,820.8 C1863.6,821 1824.9,821.3 1900,821.5 C1975.1,821.7 2232.5,821.9 2299,822" fill="none" stroke="#0c0c66" stroke-width="5.2" stroke-linejoin="round" stroke-linecap="round"/>
<line x1="1717.8" y1="78.3" x2="1818" y2="78.3" stroke="#060606" stroke-width="7" stroke-linecap="round"/>
<line x1="1717.8" y1="133.6" x2="1818" y2="133.6" stroke="#e00c0c" stroke-width="7" stroke-linecap="round"/>
<line x1="1718.6" y1="187.9" x2="1817" y2="187.9" stroke="#080858" stroke-width="5.8" stroke-linecap="round"/>
<text x="1829.51" y="93.70" font-size="45.00" textLength="255.01" lengthAdjust="spacingAndGlyphs">rGO/ZnS:Mn</text>
<text x="1830.13" y="148.50" font-size="45.00" textLength="325.57" lengthAdjust="spacingAndGlyphs">FA-rGO/ZnS:Mn</text>
<text x="1830.23" y="202.80" font-size="45.00" textLength="55.66" lengthAdjust="spacingAndGlyphs">FA</text>
<text x="1212.79" y="73.00" font-size="50.00" textLength="30.20" lengthAdjust="spacingAndGlyphs">B</text>
<text x="1360.83" y="231.30" font-size="45.00" textLength="150.86" lengthAdjust="spacingAndGlyphs">261 nm</text>
<text x="1371.96" y="389.20" font-size="45.00" textLength="148.47" lengthAdjust="spacingAndGlyphs">280 nm</text>
<text x="1549.40" y="478.90" font-size="45.00" textLength="148.53" lengthAdjust="spacingAndGlyphs">358 nm</text>
<text x="1382.56" y="594.30" font-size="45.00" textLength="148.47" lengthAdjust="spacingAndGlyphs">280 nm</text>
<text x="1556.33" y="946.40" font-size="62.00" textLength="470.10" lengthAdjust="spacingAndGlyphs">Wavelength (nm)</text>
<text transform="translate(1216.50,677.12) rotate(-90)" x="0" y="0" font-size="62.00" textLength="508.96" lengthAdjust="spacingAndGlyphs">Absorbance (a. u.)</text>
</svg>
</body></html>
